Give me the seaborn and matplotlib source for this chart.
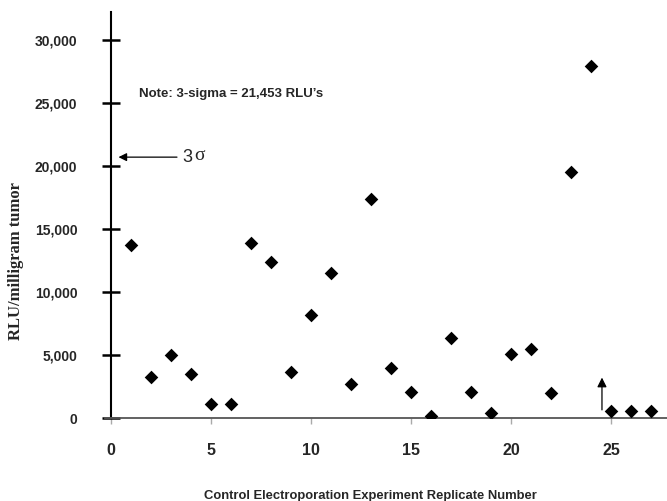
import numpy as np
import pandas as pd
import matplotlib.pyplot as plt
import seaborn as sns

# data
replicate = list(range(1, 28))
rlu_per_mg = [13700, 3300, 5000, 3500, 1100, 1100, 13900, 12400, 3700, 8200,
              11500, 2700, 17400, 4000, 2100, 200, 6400, 2100, 400, 5100,
              5500, 2000, 19500, 27900, 550, 550, 550]
y_ticks = [0, 5000, 10000, 15000, 20000, 25000, 30000]
x_ticks = [0, 5, 10, 15, 20, 25]

df = pd.DataFrame({'Replicate': replicate, 'RLU': rlu_per_mg})

sns.set_style('white')
plt.rcParams['font.family'] = ['Liberation Sans', 'DejaVu Sans']

fig = plt.figure(figsize=(6.67, 5.01), dpi=100)
ax = fig.add_axes([0.157, 0.165, 0.843, 0.811])

sns.scatterplot(data=df, x='Replicate', y='RLU', marker='D', color='black',
                s=48, edgecolor='black', linewidth=0, ax=ax, zorder=3)

ax.set_xlim(-0.3, 27.8)
ax.set_ylim(0, 32200)

ax.spines['top'].set_visible(False)
ax.spines['right'].set_visible(False)
ax.spines['left'].set_position(('data', 0))
ax.spines['left'].set_linewidth(1.5)
ax.spines['left'].set_color('black')
ax.spines['bottom'].set_linewidth(1.3)
ax.spines['bottom'].set_color('#555555')

ax.set_yticks(y_ticks)
ax.set_yticklabels([f'{v:,}' for v in y_ticks], fontweight='bold', fontsize=10)
ax.tick_params(axis='y', direction='inout', length=13, width=1.8,
               color='black', pad=17.5, left=True)
ax.set_xticks(x_ticks)
ax.set_xticklabels([str(v) for v in x_ticks], fontsize=11.5, fontweight='bold')
ax.tick_params(axis='x', direction='out', length=4, width=1, color='#aaaaaa',
               pad=14, bottom=True)

ax.set_xlabel('Control Electroporation Experiment Replicate Number',
              fontsize=9.4, fontweight='bold')
ax.xaxis.set_label_coords(0.473, -0.177)
ax.set_ylabel('RLU/milligram tumor', fontsize=12, fontweight='bold',
              family='Liberation Serif')
ax.yaxis.set_label_coords(-0.143, 0.387)

# note and 3-sigma marker
ax.text(1.4, 25700, 'Note: 3-sigma = 21,453 RLU\u2019s', fontsize=9.5,
        fontweight='bold', va='center', ha='left')
ax.annotate('', xy=(0.25, 20700), xytext=(3.45, 20700),
            arrowprops=dict(arrowstyle='-|>', color='black', lw=0.9,
                            mutation_scale=12))
ax.text(3.6, 20700, '3', fontsize=13, va='center', ha='left',
        family='Liberation Sans')
ax.text(4.15, 20850, '\u03c3', fontsize=14, va='center', ha='left',
        family='Liberation Serif')
ax.annotate('', xy=(24.55, 3450), xytext=(24.55, 450),
            arrowprops=dict(arrowstyle='-|>', color='black', lw=0.9,
                            mutation_scale=14))

plt.savefig('out.png', dpi=100)
